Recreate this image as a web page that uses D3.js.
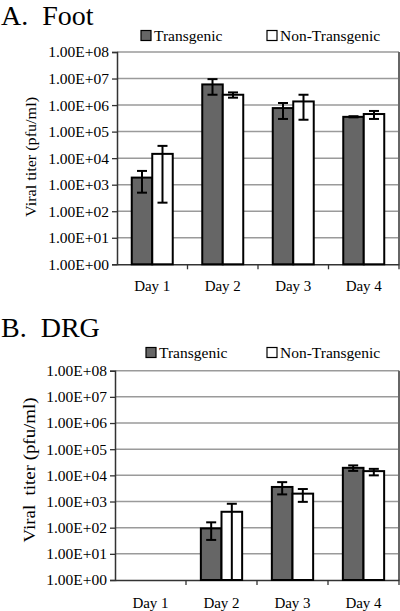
<!DOCTYPE html>
<html>
<head>
<meta charset="utf-8">
<script src="https://cdn.jsdelivr.net/npm/d3@7"></script>
<style>
  html, body { margin: 0; padding: 0; background: #fff; }
  svg { display: block; }
  svg text { font-family: "Liberation Serif", "DejaVu Serif", serif !important; fill: #000; }
</style>
</head>
<body>
<svg id="chart" width="400" height="611"></svg>
<script>
// ---- data ----
const days = ["Day 1", "Day 2", "Day 3", "Day 4"];
const seriesNames = ["Transgenic", "Non-Transgenic"];
const tickValues = [1, 1e1, 1e2, 1e3, 1e4, 1e5, 1e6, 1e7, 1e8];
const tickLabels = ["1.00E+00", "1.00E+01", "1.00E+02", "1.00E+03", "1.00E+04", "1.00E+05", "1.00E+06", "1.00E+07", "1.00E+08"];

const footTransgenic      = [1850, 6.0e6, 7.7e5, 3.6e5];
const footTransgenicLow   = [500, 2.45e6, 3.0e5, 3.45e5];
const footTransgenicHigh  = [3300, 9.5e6, 1.2e6, 3.8e5];
const footNonTransgenic     = [1.45e4, 2.45e6, 1.37e6, 4.6e5];
const footNonTransgenicLow  = [210, 1.9e6, 2.8e5, 3.0e5];
const footNonTransgenicHigh = [2.9e4, 3.0e6, 2.45e6, 6.0e5];

const drgTransgenic      = [null, 94, 3600, 1.94e4];
const drgTransgenicLow   = [null, 34, 1870, 1.48e4];
const drgTransgenicHigh  = [null, 160, 5500, 2.4e4];
const drgNonTransgenic     = [null, 405, 2000, 1.45e4];
const drgNonTransgenicLow  = [null, 0.5, 970, 1.0e4];
const drgNonTransgenicHigh = [null, 820, 3000, 1.77e4];

const svg = d3.select("#chart");
const fills = ["#666666", "#ffffff"];
const SERIF = "Liberation Serif";

function drawPanel(cfg) {
  const g = svg.append("g");
  const x0 = d3.scaleBand().domain(days).range([cfg.left, cfg.right]).padding(0);
  const x1 = d3.scaleBand().domain(seriesNames).range([0, x0.bandwidth()]).paddingInner(0).paddingOuter(0.72);
  const y = d3.scaleLog().domain([1, 1e8]).range([cfg.bottom, cfg.top]).clamp(true);

  // title
  g.append("text").attr("x", 1).attr("y", cfg.titleY)
    .attr("font-family", SERIF).style("font-size", "28px")
    .attr("xml:space", "preserve").text(cfg.title);

  // gridlines
  g.append("g").selectAll("line").data(tickValues.slice(1)).join("line")
    .attr("x1", cfg.left).attr("x2", cfg.right)
    .attr("y1", d => y(d)).attr("y2", d => y(d))
    .attr("stroke", "#9a9a9a").attr("stroke-width", 1.5);
  // right border
  g.append("line").attr("x1", cfg.right).attr("x2", cfg.right)
    .attr("y1", cfg.top).attr("y2", cfg.bottom)
    .attr("stroke", "#666").attr("stroke-width", 2);

  // y axis
  const yAxis = d3.axisLeft(y).tickValues(tickValues)
    .tickFormat((d, i) => tickLabels[i]).tickSizeOuter(0).tickSize(5).tickPadding(3);
  const ya = g.append("g").attr("transform", `translate(${cfg.left},0)`).call(yAxis)
    .attr("font-family", SERIF);
  ya.select(".domain").attr("stroke", "#333").attr("stroke-width", 1.5);
  ya.selectAll(".tick line").attr("stroke", "#333").attr("stroke-width", 1.3);
  ya.selectAll(".tick text").style("font-size", "15.5px").attr("fill", "#000");

  // x axis
  const xa = g.append("g").attr("transform", `translate(0,${cfg.bottom})`)
    .call(d3.axisBottom(x0).tickSize(0).tickPadding(0))
    .attr("font-family", SERIF);
  xa.select(".domain").attr("stroke", "#333").attr("stroke-width", 1.5);
  xa.selectAll(".tick text").attr("y", cfg.dayY - cfg.bottom).attr("dy", 0)
    .style("font-size", "15px").attr("fill", "#000");
  // category boundary ticks
  g.append("g").selectAll("line").data(days.slice(1).concat(["end"])).join("line")
    .attr("x1", d => d === "end" ? cfg.right : x0(d))
    .attr("x2", d => d === "end" ? cfg.right : x0(d))
    .attr("y1", cfg.bottom).attr("y2", cfg.bottom + 5)
    .attr("stroke", "#333").attr("stroke-width", 1.3);

  // y title
  g.append("text")
    .attr("transform", `translate(${cfg.yTitleX},${cfg.yTitleCY}) rotate(-90)`)
    .attr("text-anchor", "middle").attr("xml:space", "preserve")
    .attr("font-family", SERIF)
    .attr("textLength", cfg.yTitleLen).attr("lengthAdjust", "spacingAndGlyphs")
    .style("font-size", cfg.yTitleSize + "px").text(cfg.yTitle);

  // bars
  const rows = [];
  cfg.series.forEach((s, si) => {
    days.forEach((d, di) => {
      if (s.v[di] == null) return;
      rows.push({ day: d, name: seriesNames[si], si, v: s.v[di], lo: s.lo[di], hi: s.hi[di] });
    });
  });
  const bars = g.append("g");
  bars.selectAll("rect").data(rows).join("rect")
    .attr("x", d => x0(d.day) + x1(d.name))
    .attr("width", x1.bandwidth())
    .attr("y", d => y(d.v))
    .attr("height", d => cfg.bottom - y(d.v))
    .attr("fill", d => fills[d.si]).attr("stroke", "#000").attr("stroke-width", 2);

  // error bars
  const eb = g.append("g").attr("stroke", "#000").attr("stroke-width", 2);
  rows.forEach(d => {
    const cx = x0(d.day) + x1(d.name) + x1.bandwidth() / 2;
    eb.append("line").attr("x1", cx).attr("x2", cx).attr("y1", y(d.hi)).attr("y2", y(d.lo));
    eb.append("line").attr("x1", cx - 5).attr("x2", cx + 5).attr("y1", y(d.hi)).attr("y2", y(d.hi));
    if (d.lo >= 1) {
      eb.append("line").attr("x1", cx - 5).attr("x2", cx + 5).attr("y1", y(d.lo)).attr("y2", y(d.lo));
    }
  });

  // legend
  cfg.legend.forEach((L, i) => {
    g.append("rect").attr("x", L.x).attr("y", cfg.legendY - 10).attr("width", 10).attr("height", 10)
      .attr("fill", fills[i]).attr("stroke", "#000").attr("stroke-width", 1.2);
    g.append("text").attr("x", L.x + 13).attr("y", cfg.legendY)
      .attr("font-family", SERIF)
      .style("font-size", "15.5px").text(seriesNames[i]);
  });
}

drawPanel({
  title: "A.  Foot", titleY: 25,
  left: 117, right: 399, top: 52, bottom: 264.3, dayY: 291,
  yTitle: "Viral titer (pfu/ml)", yTitleX: 36, yTitleCY: 157, yTitleLen: 120, yTitleSize: 15,
  legendY: 40.5, legend: [{ x: 141 }, { x: 267 }],
  series: [
    { v: footTransgenic, lo: footTransgenicLow, hi: footTransgenicHigh },
    { v: footNonTransgenic, lo: footNonTransgenicLow, hi: footNonTransgenicHigh }
  ]
});

drawPanel({
  title: "B.  DRG", titleY: 337,
  left: 115, right: 399, top: 370.7, bottom: 580, dayY: 608,
  yTitle: "Viral  titer (pfu/ml)", yTitleX: 35, yTitleCY: 470, yTitleLen: 145, yTitleSize: 16,
  legendY: 357.5, legend: [{ x: 146 }, { x: 267 }],
  series: [
    { v: drgTransgenic, lo: drgTransgenicLow, hi: drgTransgenicHigh },
    { v: drgNonTransgenic, lo: drgNonTransgenicLow, hi: drgNonTransgenicHigh }
  ]
});
</script>
</body>
</html>
